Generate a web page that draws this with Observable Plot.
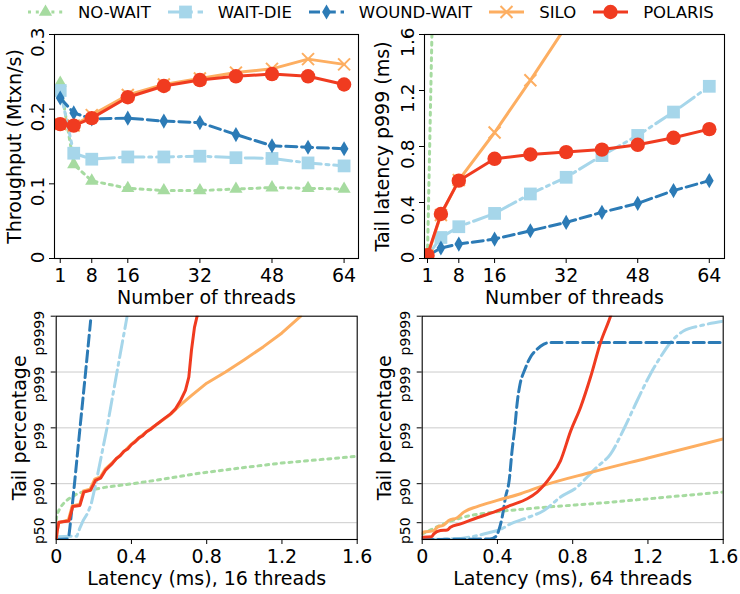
<!DOCTYPE html>
<html><head><meta charset="utf-8">
<script src="https://cdn.jsdelivr.net/npm/d3@7"></script>
<script src="https://cdn.jsdelivr.net/npm/@observablehq/plot@0.6"></script>
<style>
body{margin:0;background:#fff;}
#fig{position:relative;width:740px;height:594px;font-family:"DejaVu Sans";background:#fff;overflow:hidden;}
#fig svg.panel{position:absolute;overflow:visible;}
#legend{position:absolute;left:28px;top:2px;height:20px;display:flex;align-items:center;font-size:16.5px;white-space:nowrap;}
#legend .item{display:flex;align-items:center;margin-right:17px;}
#legend .item span{margin-left:15px;}
</style></head><body>
<div id="fig"><div id="legend"></div></div>
<script>
// ---------- data ----------
const methods = ["NO-WAIT", "WAIT-DIE", "WOUND-WAIT", "SILO", "POLARIS"];
const threads = [1, 4, 8, 16, 24, 32, 40, 48, 56, 64];
const threadTicks = [1, 8, 16, 32, 48, 64];

const tputNoWait    = [0.235, 0.126, 0.104, 0.094, 0.091, 0.091, 0.093, 0.095, 0.094, 0.093];
const tputWaitDie   = [0.225, 0.141, 0.133, 0.136, 0.136, 0.137, 0.135, 0.134, 0.128, 0.124];
const tputWoundWait = [0.215, 0.195, 0.187, 0.188, 0.184, 0.182, 0.166, 0.151, 0.149, 0.147];
const tputSilo      = [0.180, 0.178, 0.192, 0.219, 0.233, 0.241, 0.249, 0.254, 0.267, 0.260];
const tputPolaris   = [0.180, 0.178, 0.188, 0.216, 0.231, 0.239, 0.244, 0.247, 0.244, 0.233];
const tputTicks = [0, 0.1, 0.2, 0.3];

const p999NoWait    = [0.02, 4.8, 7.5, 10.2, 12.0, 13.4, 14.5, 15.3, 16.0, 16.6];
const p999WaitDie   = [0.02, 0.15, 0.227, 0.322, 0.461, 0.58, 0.735, 0.879, 1.046, 1.23];
const p999WoundWait = [0.02, 0.075, 0.103, 0.139, 0.198, 0.258, 0.33, 0.394, 0.485, 0.556];
const p999Silo      = [0.02, 0.31, 0.56, 0.90, 1.273, 1.66, 2.1, 2.5, 2.9, 3.3];
const p999Polaris   = [0.024, 0.318, 0.556, 0.712, 0.743, 0.76, 0.778, 0.812, 0.862, 0.924];
const p999Ticks = [0, 0.4, 0.8, 1.2, 1.6];

// tail-latency CDFs: latency (ms) and tail level in "nines" = -log10(1 - p)
const tailTickPct = [50, 90, 99, 99.9, 99.99];
const tailTickLabels = ["p50", "p90", "p99", "p999", "p9999"];
const latTicks = [0, 0.4, 0.8, 1.2, 1.6];

const lat16NoWait  = [0, 0.005, 0.023, 0.045, 0.067, 0.112, 0.165, 0.27, 0.45, 0.6, 0.767, 1.0, 1.2, 1.4, 1.6];
const tail16NoWait = [0.35, 0.46, 0.58, 0.67, 0.73, 0.82, 0.88, 0.94, 1.02, 1.1, 1.19, 1.29, 1.37, 1.43, 1.49];
const lat16WaitDie  = [0, 0.005, 0.11, 0.125, 0.145, 0.165, 0.185, 0.21, 0.27, 0.323, 0.376];
const tail16WaitDie = [0, 0.05, 0.06, 0.2, 0.35, 0.46, 0.62, 0.99, 2.0, 3.0, 3.98];
const lat16WoundWait  = [0, 0.06, 0.068, 0.073, 0.085, 0.097, 0.126, 0.156, 0.183];
const tail16WoundWait = [0, 0.01, 0.08, 0.22, 0.6, 0.99, 1.98, 2.99, 3.92];
const lat16Silo  = [0, 0.005, 0.013, 0.065, 0.085, 0.125, 0.145, 0.18, 0.205, 0.235, 0.26, 0.3, 0.35, 0.4, 0.45, 0.5, 0.55, 0.6, 0.65, 0.72, 0.8, 0.9, 1.0, 1.1, 1.2, 1.3];
const tail16Silo = [0, 0.14, 0.3, 0.35, 0.6, 0.63, 0.87, 0.9, 1.08, 1.12, 1.26, 1.38, 1.54, 1.71, 1.85, 1.98, 2.1, 2.22, 2.38, 2.58, 2.8, 3.0, 3.22, 3.45, 3.7, 4.0];
const lat16Polaris  = [0, 0.005, 0.014, 0.067, 0.088, 0.126, 0.147, 0.182, 0.209, 0.236, 0.262, 0.28, 0.298, 0.32, 0.34, 0.36, 0.38, 0.40, 0.42, 0.44, 0.46, 0.48, 0.50, 0.537, 0.572, 0.608, 0.634, 0.661, 0.687, 0.705, 0.719, 0.735, 0.749, 0.76];
const tail16Polaris = [0, 0.15, 0.31, 0.33, 0.59, 0.61, 0.85, 0.88, 1.06, 1.10, 1.24, 1.30, 1.36, 1.45, 1.50, 1.58, 1.62, 1.70, 1.75, 1.82, 1.86, 1.93, 1.97, 2.07, 2.16, 2.25, 2.34, 2.49, 2.67, 2.91, 3.39, 3.80, 4.0, 4.3];

const lat64NoWait  = [0, 0.05, 0.115, 0.22, 0.38, 0.56, 0.74, 0.9, 1.14, 1.4, 1.6];
const tail64NoWait = [0.1, 0.18, 0.28, 0.40, 0.49, 0.55, 0.60, 0.64, 0.71, 0.79, 0.85];
const lat64WaitDie  = [0, 0.204, 0.292, 0.363, 0.416, 0.469, 0.558, 0.647, 0.735, 0.824, 0.877, 0.93, 1.001, 1.072, 1.143, 1.214, 1.267, 1.32, 1.391, 1.479, 1.6];
const tail64WaitDie = [0, 0.02, 0.07, 0.13, 0.18, 0.28, 0.39, 0.52, 0.76, 0.94, 1.12, 1.30, 1.53, 1.98, 2.49, 2.97, 3.27, 3.53, 3.74, 3.83, 3.91];
const lat64WoundWait  = [0, 0.36, 0.39, 0.407, 0.425, 0.443, 0.462, 0.478, 0.492, 0.505, 0.52, 0.544, 0.576, 0.611, 0.647, 0.682, 1.6];
const tail64WoundWait = [0, 0.01, 0.05, 0.16, 0.40, 0.76, 1.05, 1.6, 2.0, 2.45, 2.78, 3.03, 3.27, 3.41, 3.50, 3.53, 3.53];
const lat64Silo  = [0, 0.005, 0.062, 0.08, 0.115, 0.141, 0.186, 0.221, 0.292, 0.399, 0.523, 0.647, 0.895, 1.2, 1.6];
const tail64Silo = [0.11, 0.13, 0.16, 0.22, 0.26, 0.34, 0.39, 0.49, 0.59, 0.70, 0.82, 0.97, 1.2, 1.46, 1.80];
const lat64Polaris  = [0, 0.05, 0.062, 0.097, 0.133, 0.15, 0.204, 0.292, 0.381, 0.469, 0.558, 0.611, 0.647, 0.682, 0.735, 0.79, 0.842, 0.895, 0.948, 1.001, 1.02];
const tail64Polaris = [0.04, 0.05, 0.10, 0.16, 0.17, 0.22, 0.28, 0.39, 0.49, 0.61, 0.73, 0.85, 0.97, 1.12, 1.41, 1.95, 2.37, 2.91, 3.53, 4.0, 4.2];

// ---------- styles ----------
const colors = ["#a6dba0", "#a6d6ea", "#2c7bb6", "#fdae61", "#f03b20"];
const dashes = ["3,4.8", "17,4.8,3,4.8", "11,4.8", null, null];
const symbols = ["triangle", "square", "diamond", "times", "circle"];
const radii = [4.9, 7.2, 4.6, 5.5, 7.2];
const LW = 3;

const pairs = (xs, ys) => xs.map((x, j) => ({x, y: ys[j]}));
const nines = p => -Math.log10(1 - p / 100);
const numFmt = d => d === 0 ? "0" : String(d);

function panel(cfg) {
  const marks = [];
  if (cfg.grid) marks.push(Plot.ruleY(cfg.grid, {stroke: "#cccccc", strokeWidth: 1}));
  cfg.series.forEach((s, i) => {
    marks.push(Plot.line(s, {x: "x", y: "y", stroke: colors[i], strokeWidth: LW,
      strokeDasharray: dashes[i], curve: cfg.curve || "linear", clip: true}));
    if (cfg.markers) {
      const isStroke = symbols[i] === "times";
      marks.push(Plot.dot(s, {x: "x", y: "y", symbol: symbols[i], r: radii[i],
        fill: isStroke ? "none" : colors[i], stroke: isStroke ? colors[i] : "none",
        strokeWidth: isStroke ? 2 : 0, clip: true}));
    }
  });
  marks.push(Plot.frame({stroke: "black", strokeWidth: 1.1}));
  marks.push(Plot.axisX({ticks: cfg.xTicks, tickFormat: cfg.xFormat, tickSize: 5, tickPadding: 5,
    label: cfg.xLabel, labelAnchor: "center", labelOffset: cfg.xLabelOffset, labelArrow: "none"}));
  // y ticks + axis label
  marks.push(Plot.axisY({ticks: cfg.yTicks, tickFormat: () => "", tickSize: 5,
    label: cfg.yLabel, labelAnchor: "center", labelOffset: cfg.yLabelOffset, labelArrow: "none"}));
  // rotated y tick labels, anchored like matplotlib's center_baseline
  marks.push(Plot.axisY({ticks: cfg.yTicks, tickFormat: cfg.yFormat, tickSize: 0, tickPadding: cfg.yTickPad,
    tickRotate: -90, textAnchor: "end", lineAnchor: "bottom", fontSize: cfg.yTickFont + "px",
    dy: -0.38 * cfg.yTickFont, label: null}));
  const svg = Plot.plot({
    width: cfg.width, height: cfg.height,
    marginLeft: cfg.m[0], marginRight: cfg.m[1], marginTop: cfg.m[2], marginBottom: cfg.m[3],
    x: {type: "linear", domain: cfg.xDomain},
    y: {type: "linear", domain: cfg.yDomain},
    style: {fontFamily: "DejaVu Sans", fontSize: "19px", color: "black", background: "transparent", overflow: "visible"},
    marks
  });
  svg.classList.add("panel");
  svg.style.left = cfg.left + "px";
  svg.style.top = cfg.top + "px";
  document.getElementById("fig").appendChild(svg);
}

const tailTickPos = tailTickPct.map(nines);
const tailFmt = (d, i) => tailTickLabels[i];

panel({
  left: 0, top: 20, width: 370, height: 290, m: [54, 12, 14, 52],
  xDomain: [-0.27, 67.2], yDomain: [0, 0.3],
  xTicks: threadTicks, xFormat: String, yTicks: tputTicks, yFormat: numFmt, yTickFont: 18.5, yTickPad: 11,
  xLabel: "Number of threads", yLabel: "Throughput (Mtxn/s)", xLabelOffset: 45, yLabelOffset: 47,
  markers: true,
  series: [tputNoWait, tputWaitDie, tputWoundWait, tputSilo, tputPolaris].map(v => pairs(threads, v))
});
panel({
  left: 370, top: 20, width: 370, height: 290, m: [54, 16, 14, 52],
  xDomain: [0.33, 67.4], yDomain: [0, 1.6],
  xTicks: threadTicks, xFormat: String, yTicks: p999Ticks, yFormat: numFmt, yTickFont: 18.5, yTickPad: 11,
  xLabel: "Number of threads", yLabel: "Tail latency p999 (ms)", xLabelOffset: 45, yLabelOffset: 49,
  markers: true,
  series: [p999NoWait, p999WaitDie, p999WoundWait, p999Silo, p999Polaris].map(v => pairs(threads, v))
});
panel({
  left: 0, top: 300, width: 370, height: 294, m: [55.7, 13.3, 15.7, 55],
  xDomain: [0, 1.6], yDomain: [0, 4],
  xTicks: latTicks, xFormat: numFmt, yTicks: tailTickPos, yFormat: tailFmt, yTickFont: 14, yTickPad: 12.5,
  xLabel: "Latency (ms), 16 threads", yLabel: "Tail percentage", xLabelOffset: 45, yLabelOffset: 44,
  grid: tailTickPos.slice(0, 4), markers: false,
  series: [pairs(lat16NoWait, tail16NoWait), pairs(lat16WaitDie, tail16WaitDie),
           pairs(lat16WoundWait, tail16WoundWait), pairs(lat16Silo, tail16Silo),
           pairs(lat16Polaris, tail16Polaris)]
});
panel({
  left: 370, top: 300, width: 370, height: 294, m: [51.7, 17.3, 15.7, 55],
  xDomain: [0, 1.6], yDomain: [0, 4],
  xTicks: latTicks, xFormat: numFmt, yTicks: tailTickPos, yFormat: tailFmt, yTickFont: 14, yTickPad: 12.5,
  xLabel: "Latency (ms), 64 threads", yLabel: "Tail percentage", xLabelOffset: 45, yLabelOffset: 45,
  grid: tailTickPos.slice(0, 4), markers: false, curve: "monotone-x",
  series: [pairs(lat64NoWait, tail64NoWait), pairs(lat64WaitDie, tail64WaitDie),
           pairs(lat64WoundWait, tail64WoundWait), pairs(lat64Silo, tail64Silo),
           pairs(lat64Polaris, tail64Polaris)]
});

// ---------- legend ----------
const legend = d3.select("#legend");
const symMap = {triangle: d3.symbolTriangle, square: d3.symbolSquare, diamond: d3.symbolDiamond,
                times: d3.symbolTimes, circle: d3.symbolCircle};
methods.forEach((name, i) => {
  const item = legend.append("div").attr("class", "item");
  const sw = item.append("svg").attr("width", 35).attr("height", 20);
  sw.append("line").attr("x1", 0).attr("x2", 35).attr("y1", 10).attr("y2", 10)
    .attr("stroke", colors[i]).attr("stroke-width", LW).attr("stroke-dasharray", dashes[i]);
  const path = d3.symbol(symMap[symbols[i]], Math.PI * radii[i] * radii[i])();
  const isStroke = symbols[i] === "times";
  sw.append("path").attr("d", path).attr("transform", "translate(17.5,10)")
    .attr("fill", isStroke ? "none" : colors[i]).attr("stroke", isStroke ? colors[i] : "none")
    .attr("stroke-width", 2);
  item.append("span").text(name);
});
</script>
</body></html>
